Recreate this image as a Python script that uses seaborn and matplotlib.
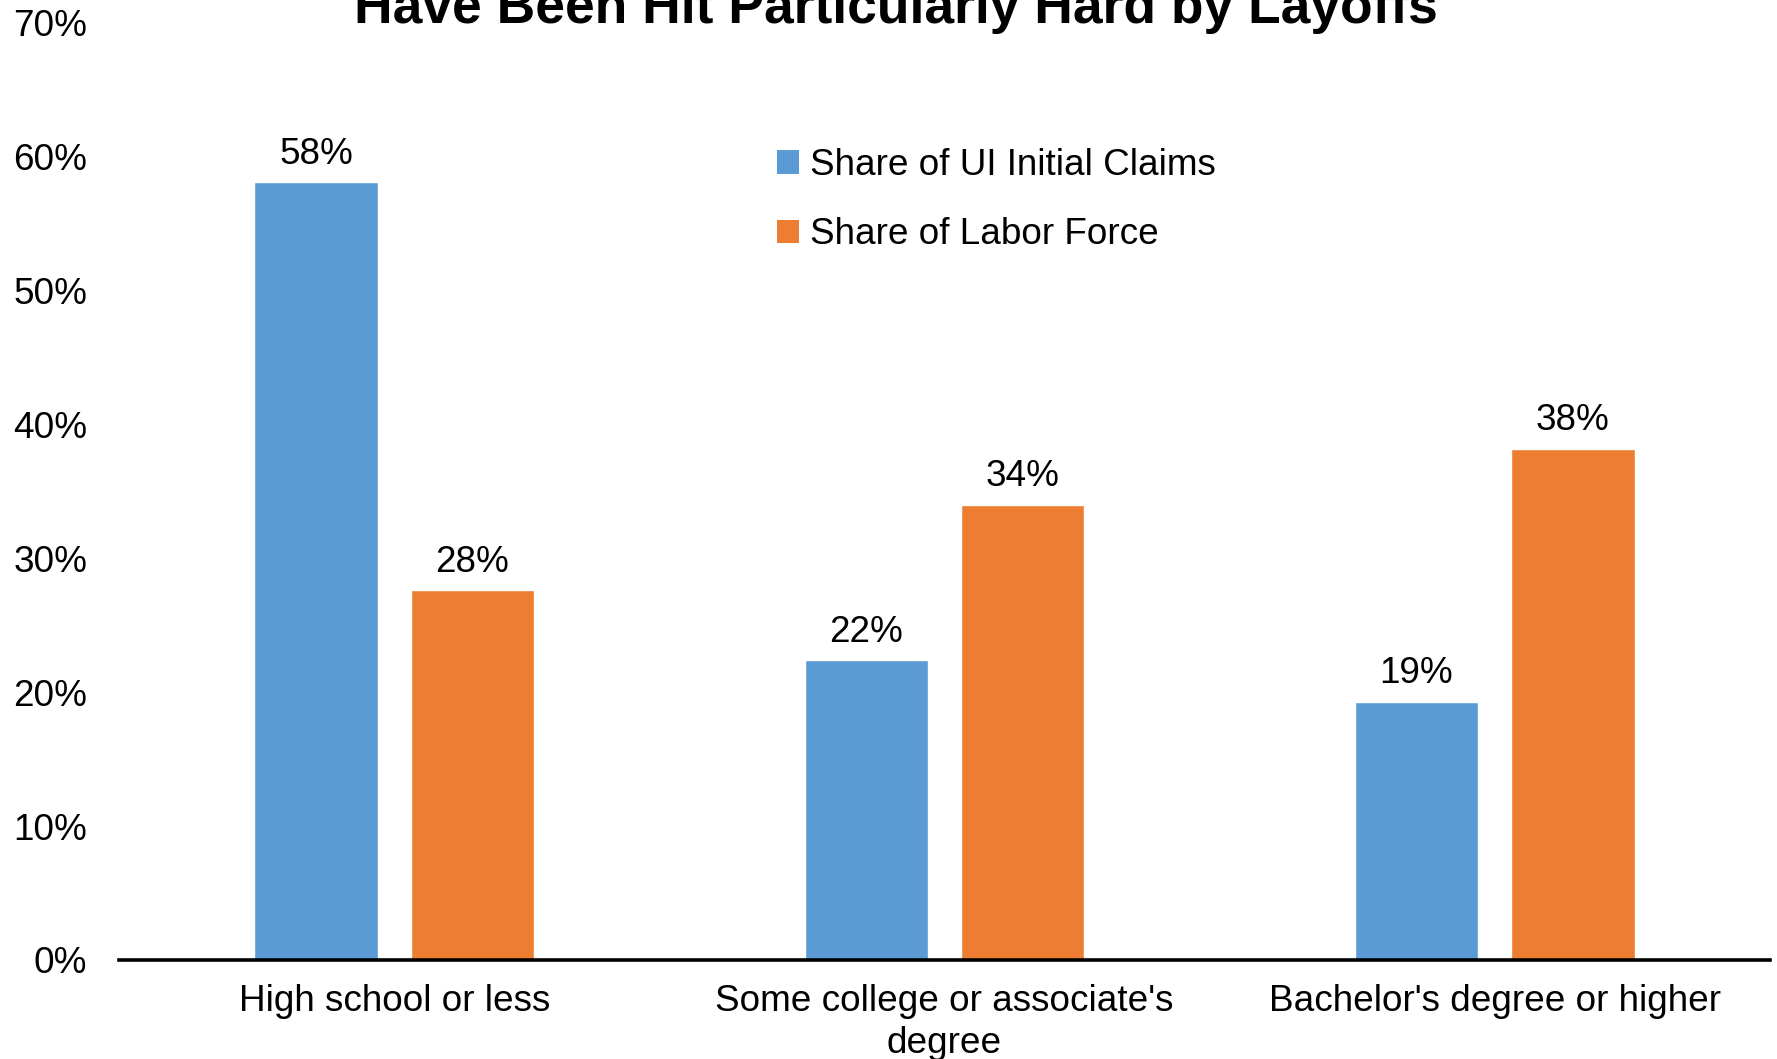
import matplotlib
matplotlib.use("Agg")
import matplotlib.pyplot as plt
from matplotlib.patches import Patch
import pandas as pd
import seaborn as sns

# Education groups and shares (percent)
categories = ["High school or less", "Some college or associate's\ndegree", "Bachelor's degree or higher"]
series_names = ["Share of UI Initial Claims", "Share of Labor Force"]
ui_claims = [58.1, 22.4, 19.3]
labor_force = [27.6, 34.0, 38.2]
y_ticks = [0, 10, 20, 30, 40, 50, 60, 70]
title = "Have Been Hit Particularly Hard by Layoffs"

colors = ["#5B9BD5", "#ED7D31"]
FS = 26.6

df = pd.DataFrame({
    "category": categories * 2,
    "series": [series_names[0]] * 3 + [series_names[1]] * 3,
    "value": ui_claims + labor_force,
})

sns.set_theme(style="white")
plt.rcParams["font.family"] = ["Liberation Sans", "DejaVu Sans"]
plt.rcParams["text.color"] = "black"

fig = plt.figure(figsize=(17.77, 10.59), dpi=100)
ax = fig.add_axes([0.067, 0.0935, 0.929, 0.885])

sns.barplot(data=df, x="category", y="value", hue="series", order=categories,
            hue_order=series_names, palette=colors, width=0.568, gap=0.21,
            saturation=1, legend=False, ax=ax)

for cont in ax.containers:
    ax.bar_label(cont, fmt="%.0f%%", padding=7.5, fontsize=FS, color="black")

ax.set_xlim(-0.5, 2.5)
ax.set_ylim(0, 70)
ax.set_yticks(y_ticks)
ax.set_yticklabels([f"{t}%" for t in y_ticks])
ax.set_xlabel("")
ax.set_ylabel("")

for side in ["top", "right", "left"]:
    ax.spines[side].set_visible(False)
ax.spines["bottom"].set_color("black")
ax.spines["bottom"].set_linewidth(2.6)

ax.tick_params(axis="y", length=0, pad=23, labelsize=FS, labelcolor="black")
ax.tick_params(axis="x", length=0, pad=17.5, labelsize=FS, labelcolor="black")
for lbl in ax.get_xticklabels():
    lbl.set_linespacing(1.24)

handles = [Patch(facecolor=c, edgecolor="none") for c in colors]
ax.legend(handles, series_names, loc="upper left", bbox_to_anchor=(777 / 1777, 1 - 148 / 1059),
          bbox_transform=fig.transFigure, frameon=False, fontsize=FS, labelcolor="black",
          handlelength=0.6, handleheight=0.6, handletextpad=0.28,
          labelspacing=0.93, borderpad=0, borderaxespad=0)

fig.text(0.504, 0.978, title, ha="center", va="baseline", fontsize=38.4,
         fontweight="bold", color="black")

fig.savefig("out.png", dpi=100, facecolor="white")
